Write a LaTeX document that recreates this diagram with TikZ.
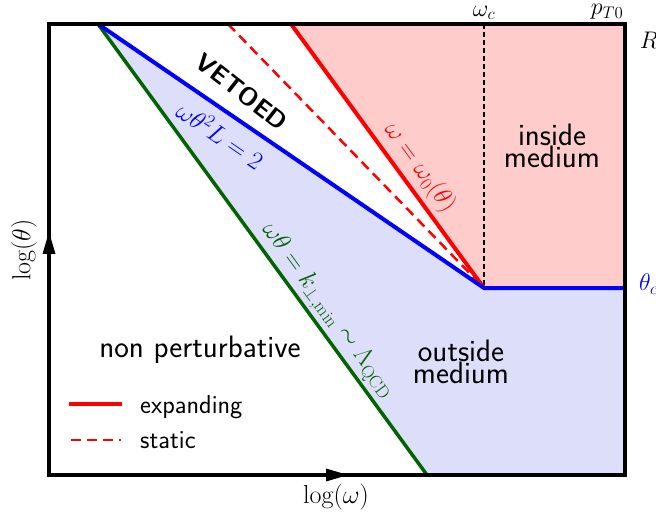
\RequirePackage{fix-cm}
\documentclass[tikz,border=0pt]{standalone}
\usepackage{fontspec}
\definecolor{pinkfill}{RGB}{255,204,204}
\definecolor{bluefill}{RGB}{221,222,250}
\definecolor{dgreen}{RGB}{0,100,0}
\begin{document}
\begin{tikzpicture}[x=1pt,y=-1pt,
  region/.style={font=\sffamily\fontsize{31}{22.5}\selectfont, align=center, inner sep=0pt},
  legendtext/.style={font=\sffamily\fontsize{26}{30}\selectfont, inner sep=0pt},
  vetotext/.style={font=\sffamily\bfseries\fontsize{25}{28}\selectfont, inner sep=0pt},
  mathlabel/.style={font=\fontsize{25.5}{28}\selectfont, inner sep=0pt},
  axislabel/.style={font=\fontsize{26}{30}\selectfont, inner sep=0pt},
  edgelabel/.style={font=\fontsize{24}{28}\selectfont, inner sep=0pt},
  boundary/.style={line width=4pt},
  frame/.style={line width=4pt, line join=miter},
  arrowhead/.style={fill=black}]
\useasboundingbox (0,0) rectangle (656,513);
% key points
\coordinate (TL) at (49,24);
\coordinate (TR) at (625,24);
\coordinate (BR) at (625,475);
\coordinate (BL) at (49,475);
\coordinate (A) at (98,24);
\coordinate (C) at (484,288);
\coordinate (E) at (625,288);
\coordinate (G) at (427,475);
\coordinate (Rs) at (291,24);
\coordinate (Rd) at (228,24);
\coordinate (Wc) at (484,24);
% regions
\fill[pinkfill] (Rs) -- (TR) -- (E) -- (C) -- cycle;
\fill[bluefill] (A) -- (C) -- (E) -- (BR) -- (G) -- cycle;
% lines
\draw[line width=1.2pt, dash pattern=on 5pt off 3pt] (Wc) -- (C);
\draw[red, line width=2.5pt, dash pattern=on 10pt off 6pt] (Rd) -- (C);
\draw[red, boundary] (Rs) -- (C);
\draw[dgreen, line width=3.5pt] (A) -- (G);
\draw[blue, boundary, line join=miter] (A) -- (C) -- (E);
\draw[frame] (TL) rectangle (BR);
% axis arrowheads
\fill[arrowhead] (49,232) -- (42.5,254) -- (55.5,254) -- cycle;
\fill[arrowhead] (348,475) -- (326,468.5) -- (326,481.5) -- cycle;
% axis labels
\node[axislabel, rotate=90] (ylab) at (24,250) {$\log(\theta)$};
\node[axislabel] (xlab) at (336,497) {$\log(\omega)$};
\node[edgelabel] (wc) at (484,13) {$\omega_c$};
\node[edgelabel] (pt0) at (607,12) {$p_{T0}$};
\node[edgelabel] (Rlab) at (649,40) {$R$};
\node[edgelabel, text=blue, anchor=west] (thc) at (639,284) {$\theta_c$};
% line labels
\node[mathlabel, text=blue, rotate=-34.4] (lblue) at (221,134.5) {$\omega\theta^2 L = 2$};
\node[mathlabel, text=red, rotate=-53.8] (lred) at (419.5,168) {$\omega = \omega_0(\theta)$};
\node[mathlabel, text=dgreen, rotate=-53.9] (lgreen) at (327.5,311) {$\omega\theta = k_{\perp,\mathrm{min}} \sim \Lambda_{\mathrm{QCD}}$};
\node[vetotext, rotate=-38] (veto) at (242,92) {VETOED};
% region labels
\node[region] (inside) at (552,146) {inside\\medium};
\node[region] (outside) at (461,362) {outside\\medium};
\node[region, anchor=base] (nonpert) at (200,357) {non perturbative};
% legend
\coordinate (L1a) at (69,404);
\coordinate (L1b) at (122,404);
\coordinate (L2a) at (71,440);
\coordinate (L2b) at (121,440);
\draw[red, boundary] (L1a) -- (L1b);
\draw[red, line width=2.5pt, dash pattern=on 10pt off 6pt] (L2a) -- (L2b);
\node[legendtext, anchor=base west] (lexp) at (140,413) {expanding};
\node[legendtext, anchor=base west] (lsta) at (140,448) {static};
\end{tikzpicture}
\end{document}
